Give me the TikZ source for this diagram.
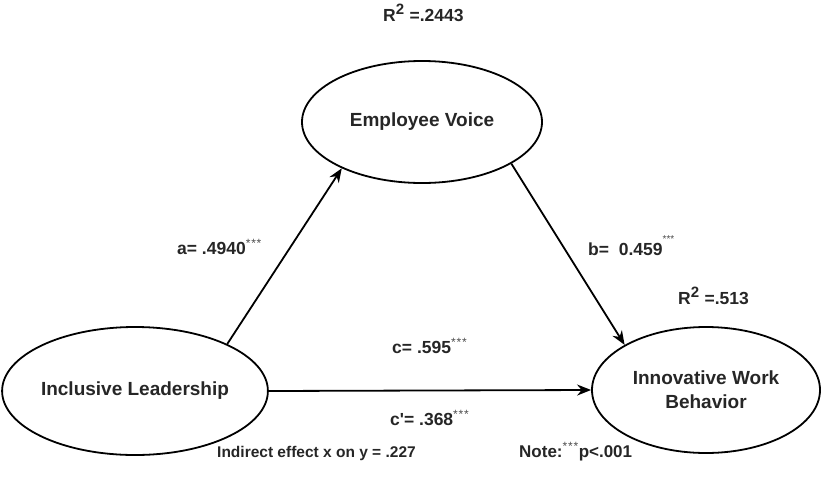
\documentclass[tikz,border=0pt]{standalone}
\usepackage{fontspec}
\setmainfont{Liberation Sans}
\usepackage{tikz}
\usetikzlibrary{arrows.meta,shapes.geometric}

\newcommand{\sigstars}{\textsuperscript{\fontsize{12}{12}\selectfont\mdseries\color{black!70}*\kern0.8pt*\kern0.8pt*}}

\begin{document}
\begin{tikzpicture}[
		x=1pt, y=-1pt,
		>={Stealth[length=14pt,width=11pt]},
		% Node styles
		construct/.style={
			ellipse, draw=black, line width=1.8pt,
			inner sep=0pt, align=center,
			font=\fontsize{19}{24}\selectfont\bfseries, text=black!85
		},
		coef/.style={
			anchor=base west, inner sep=0pt,
			font=\fontsize{17.5}{20}\selectfont\bfseries, text=black!85
		},
		note/.style={
			anchor=base west, inner sep=0pt,
			font=\fontsize{15.5}{19}\selectfont\bfseries, text=black!85
		},
		arr/.style={->, line width=1.8pt, black}
		]
		
		\useasboundingbox (0,0) rectangle (822,485);
		
		%% ─── CONSTRUCTS ──────────────────────────────────────
		\node[construct, minimum width=240pt, minimum height=122pt] (ev) at (422,122)
		{Employee Voice};
		\node[construct, minimum width=246pt, minimum height=128pt] (il) at (135,391)
		{Inclusive Leadership};
		\node[construct, minimum width=228pt, minimum height=126pt] (iwb) at (706,390)
		{Innovative Work\\Behavior};
		
		%% ─── PATHS ───────────────────────────────────────────
		\draw[arr] (il.27) -- (ev.210);
		\draw[arr] (ev.335) -- (iwb.151);
		\draw[arr] (il.east) -- (iwb.west);
		
		% Coefficients
		\node[coef] (a) at (177,254) {a= .4940\sigstars};
		\node[coef] (b) at (588,255) {b=\ \ 0.459\raisebox{1.3ex}{\fontsize{10}{10}\selectfont\mdseries\color{black!70}***}};
		\node[coef] (c) at (392,353) {c= .595\sigstars};
		\node[coef] (cp) at (390,425) {c\textquotesingle= .368\sigstars};
		
		% Explained variance
		\node[coef] (r2ev) at (383,21) {R\textsuperscript{\fontsize{15}{15}\selectfont 2} =.2443};
		\node[coef] (r2iwb) at (678,304) {R\textsuperscript{\fontsize{15}{15}\selectfont 2} =.513};
		
		% Notes
		\node[note] (ind) at (217,457) {Indirect effect x on y = .227};
		\node[note, font=\fontsize{17}{20}\selectfont\bfseries] (nt) at (519,457) {Note:\sigstars p<.001};
		
\end{tikzpicture}
\end{document}
